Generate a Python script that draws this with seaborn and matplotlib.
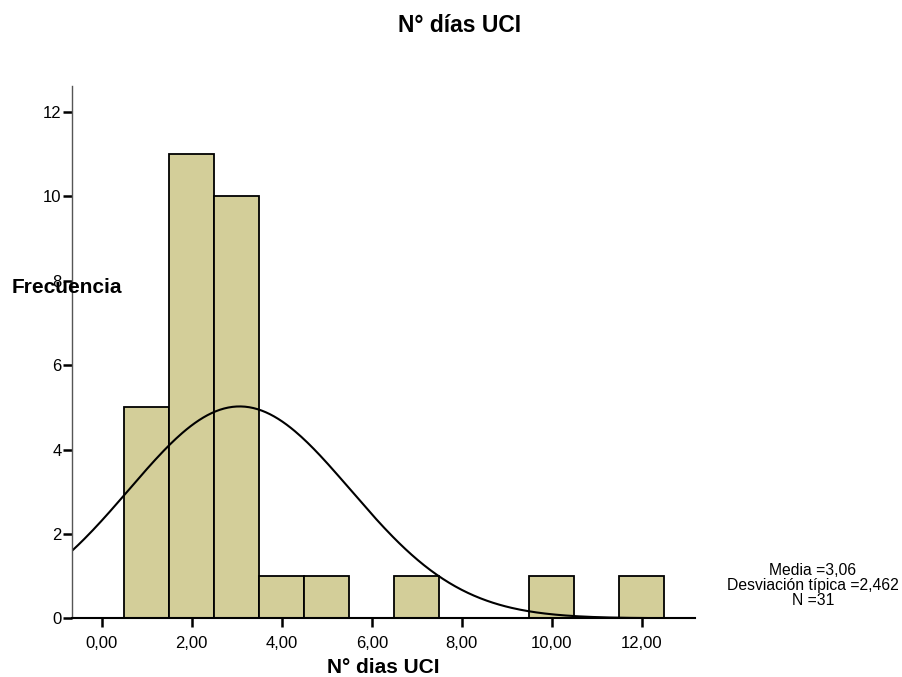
import numpy as np
import pandas as pd
import matplotlib
matplotlib.use("Agg")
import matplotlib.pyplot as plt
import seaborn as sns

# Data
dias = [1, 2, 3, 4, 5, 7, 10, 12]
frecuencia = [5, 11, 10, 1, 1, 1, 1, 1]
x_ticks = [0, 2, 4, 6, 8, 10, 12]
y_ticks = [0, 2, 4, 6, 8, 10, 12]

sns.set_style("white")
plt.rcParams['font.family'] = ['Liberation Sans', 'DejaVu Sans']
plt.rcParams['text.color'] = 'black'
plt.rcParams['axes.labelcolor'] = 'black'
plt.rcParams['xtick.color'] = 'black'
plt.rcParams['ytick.color'] = 'black'

# expand counts into individual observations
values = np.repeat(np.array(dias, dtype=float), frecuencia)
df = pd.DataFrame({"dias": values})
media = values.mean()
sd = values.std(ddof=1)
n = len(values)

fig = plt.figure(figsize=(9.02, 6.77), dpi=100)
ax = fig.add_axes([0.0798, 0.0867, 0.6907, 0.7863])

sns.histplot(data=df, x="dias", bins=list(np.arange(0.5, 13.5, 1)),
             color="#d3ce99", alpha=1, edgecolor="black", linewidth=1.3, ax=ax)

# normal curve
xs = np.linspace(-0.66, 13.18, 300)
ys = n * 1.0 * np.exp(-0.5 * ((xs - media) / sd) ** 2) / (sd * np.sqrt(2 * np.pi))
sns.lineplot(x=xs, y=ys, color="black", linewidth=1.5, ax=ax)

ax.set_xlim(-0.66, 13.18)
ax.set_ylim(0, 12.62)
ax.set_xticks(x_ticks)
ax.set_xticklabels([f"{v:.2f}".replace(".", ",") for v in x_ticks], fontsize=12)
ax.set_yticks(y_ticks)
ax.set_yticklabels([str(v) for v in y_ticks], fontsize=12)
ax.tick_params(axis="both", direction="out", length=6.5, width=1.8, color="black",
               bottom=True, left=True)
ax.tick_params(axis="x", pad=6)
ax.tick_params(axis="y", pad=1)

for s in ["top", "right"]:
    ax.spines[s].set_visible(False)
ax.spines["left"].set_color("#555555")
ax.spines["left"].set_linewidth(1)
ax.spines["bottom"].set_color("black")
ax.spines["bottom"].set_linewidth(1.5)

ax.set_xlabel("N° dias UCI", fontsize=15, fontweight="bold", labelpad=5)
ax.set_ylabel("")
fig.text(0.013, 0.576, "Frecuencia", fontsize=15, fontweight="bold", va="center", ha="left")

fig.text(0.509, 0.962, "N° días UCI", fontsize=16.5, fontweight="bold", ha="center", va="center")

fig.text(0.901, 0.135, f"Media ={media:.2f}".replace(".", ",") + "\n"
         + f"Desviación típica ={sd:.3f}".replace(".", ",") + "\n" + f"N ={n}",
         fontsize=11.3, ha="center", va="center", linespacing=1.0)

plt.savefig("out.png", dpi=100)
